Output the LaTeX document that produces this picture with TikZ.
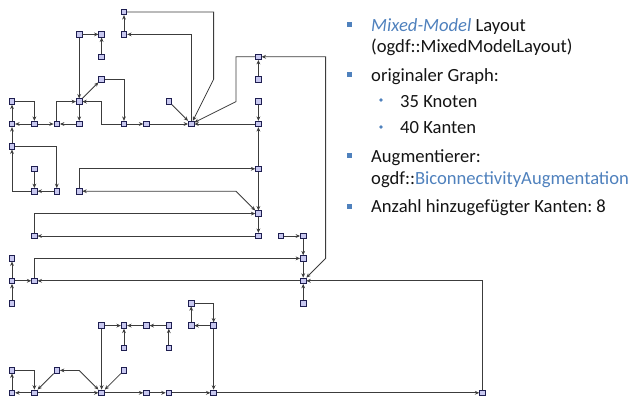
\documentclass[tikz,border=0pt]{standalone}
\usepackage{fontspec}
\setmainfont{Carlito}
\usetikzlibrary{arrows.meta}
\definecolor{nodefill}{HTML}{C8C8F0}
\definecolor{nodeline}{HTML}{1E1E50}
\definecolor{edgecol}{HTML}{3C3C3C}
\definecolor{accent}{HTML}{4F81BD}
\frenchspacing
\begin{document}
\begin{tikzpicture}[
  nd/.style={rectangle, draw=nodeline, fill=nodefill, line width=0.7pt, minimum size=5.6pt, inner sep=0pt},
  e/.style={draw=edgecol, line width=0.8pt, -{Stealth[length=4.4pt,width=3.8pt]}},
  ee/.style={draw=edgecol, line width=0.8pt, {Stealth[length=4.4pt,width=3.8pt]}-{Stealth[length=4.4pt,width=3.8pt]}},
  txt/.style={anchor=base west, inner sep=0pt, font=\fontsize{18.6pt}{22pt}\selectfont, text=black!92},
  bsq/.style={rectangle, fill=accent, minimum size=5pt, inner sep=0pt},
  bdot/.style={circle, fill=accent, minimum size=3.8pt, inner sep=0pt}
]
\useasboundingbox (0,0) rectangle (636pt,-399pt);

\begin{scope}[shift={(12pt,-12pt)}, x=22.4pt, y=-22.4pt]
  % ---- vertices on the layout grid ----
  \foreach \i/\j in {5/0,5/1,3/1,4/1,4/2,4/3,3/4,0/4,0/5,1/5,2/5,3/5,5/5,6/5,8/5,7/4,
                     11/2,11/3,11/4,11/5,
                     0/6,1/7,1/8,2/8,3/8,1/10,11/7,11/9,11/10,12/10,13/10,
                     0/11,0/12,0/13,1/12,13/11,13/12,13/13,
                     4/14,5/14,6/14,5/15,7/14,7/15,8/13,8/14,9/14,
                     0/16,2/16,5/16,0/17,1/17,4/17,6/17,7/17,9/17,21/17}
    \node[nd] (n-\i-\j) at (\i,\j) {};

  % ---- upper cluster ----
  \draw[e] (n-5-1) -- (n-5-0);
  \draw[e] (n-5-0) -- (9,0) -- (9,3) -- (n-8-5);
  \draw[e] (n-8-5) -- (8,1) -- (n-5-1);
  \draw[e] (n-3-1) -- (n-4-1);
  \draw[e] (n-4-2) -- (n-4-1);
  \draw[e] (n-3-1) -- (n-3-4);
  \draw[e] (n-3-4) -- (n-4-3);
  \draw[e] (n-4-3) -- (5,3) -- (n-5-5);
  \draw[e] (n-5-5) -- (4,5) -- (4,4) -- (n-3-4);
  \draw[e] (n-2-5) -- (2,4) -- (n-3-4);
  \draw[e] (n-3-4) -- (n-3-5);
  \draw[e] (n-3-5) -- (n-2-5);
  \draw[e] (n-1-5) -- (n-2-5);
  \draw[e] (n-1-5) -- (n-0-5);
  \draw[e] (n-0-4) -- (1,4) -- (n-1-5);
  \draw[e] (n-0-5) -- (n-0-4);
  \draw[e] (n-5-5) -- (n-6-5);
  \draw[e] (n-6-5) -- (n-8-5);
  \draw[e] (n-7-4) -- (n-8-5);
  \draw[e] (n-11-5) -- (n-8-5);
  \draw[e] (n-11-2) -- (10,2) -- (10,4) -- (n-8-5);
  \draw[e] (n-11-3) -- (n-11-2);
  \draw[ee] (n-13-12) -- (14,11) -- (14,2) -- (n-11-2);
  \draw[e] (n-11-4) -- (n-11-5);
  \draw[e] (n-11-7) -- (n-11-5);

  % ---- middle cluster ----
  \draw[e] (n-0-6) -- (n-0-5);
  \draw[e] (n-0-6) -- (2,6) -- (n-2-8);
  \draw[e] (n-1-7) -- (n-1-8);
  \draw[e] (n-2-8) -- (n-1-8);
  \draw[e] (n-1-8) -- (0,8) -- (n-0-6);
  \draw[e] (n-3-8) -- (3,7) -- (n-11-7);
  \draw[ee] (n-11-9) -- (10,8) -- (n-3-8);
  \draw[e] (n-11-7) -- (n-11-9);
  \draw[e] (n-1-10) -- (1,9) -- (n-11-9);
  \draw[e] (n-11-9) -- (n-11-10);
  \draw[e] (n-11-10) -- (n-1-10);
  \draw[e] (n-12-10) -- (n-13-10);
  \draw[e] (n-13-10) -- (n-13-11);
  \draw[e] (n-1-12) -- (1,11) -- (n-13-11);
  \draw[e] (n-0-12) -- (n-0-11);
  \draw[e] (n-0-13) -- (n-0-12);
  \draw[e] (n-0-12) -- (n-1-12);
  \draw[e] (n-13-12) -- (n-1-12);
  \draw[e] (n-13-11) -- (n-13-12);
  \draw[e] (n-13-13) -- (n-13-12);
  \draw[e] (n-21-17) -- (21,12) -- (n-13-12);

  % ---- lower cluster ----
  \draw[e] (n-4-14) -- (n-5-14);
  \draw[e] (n-6-14) -- (n-5-14);
  \draw[e] (n-5-15) -- (n-5-14);
  \draw[e] (n-7-14) -- (n-6-14);
  \draw[e] (n-7-15) -- (n-7-14);
  \draw[e] (n-8-14) -- (n-8-13);
  \draw[e] (n-8-13) -- (9,13) -- (n-9-14);
  \draw[e] (n-9-14) -- (n-8-14);
  \draw[e] (n-9-14) -- (n-9-17);
  \draw[e] (n-7-17) -- (n-9-17);
  \draw[e] (n-6-17) -- (n-7-17);
  \draw[e] (n-4-17) -- (n-6-17);
  \draw[e] (n-4-14) -- (n-4-17);
  \draw[e] (n-5-16) -- (n-4-17);
  \draw[ee] (n-4-17) -- (3,16) -- (n-2-16);
  \draw[e] (n-2-16) -- (n-1-17);
  \draw[e] (n-1-17) -- (n-0-17);
  \draw[e] (n-0-17) -- (n-0-16);
  \draw[e] (n-0-16) -- (1,16) -- (n-1-17);
  \draw[e] (n-1-17) -- (n-4-17);
  \draw[e] (n-9-17) -- (n-21-17);
\end{scope}

% ---- description list ----
\node[bsq] (b1) at (349pt,-24pt) {};
\node[txt] (t1) at (371pt,-31pt) {\textcolor{accent}{\itshape Mixed-Model} Layout};
\node[txt] (t2) at (371pt,-52pt) {(ogdf::MixedModelLayout)};
\node[bsq] (b2) at (349pt,-74pt) {};
\node[txt] (t3) at (371pt,-81pt) {originaler Graph:};
\node[bdot] (d1) at (381pt,-100pt) {};
\node[txt] (t4) at (400pt,-107pt) {35 Knoten};
\node[bdot] (d2) at (381pt,-127pt) {};
\node[txt] (t5) at (400pt,-133pt) {40 Kanten};
\node[bsq] (b3) at (349pt,-155pt) {};
\node[txt] (t6) at (371pt,-162pt) {Augmentierer:};
\node[txt] (t7) at (371pt,-184pt) {ogdf::\textcolor{accent}{BiconnectivityAugmentation}};
\node[bsq] (b4) at (349pt,-206pt) {};
\node[txt] (t8) at (371pt,-212pt) {Anzahl hinzugefügter Kanten: 8};
\end{tikzpicture}
\end{document}
